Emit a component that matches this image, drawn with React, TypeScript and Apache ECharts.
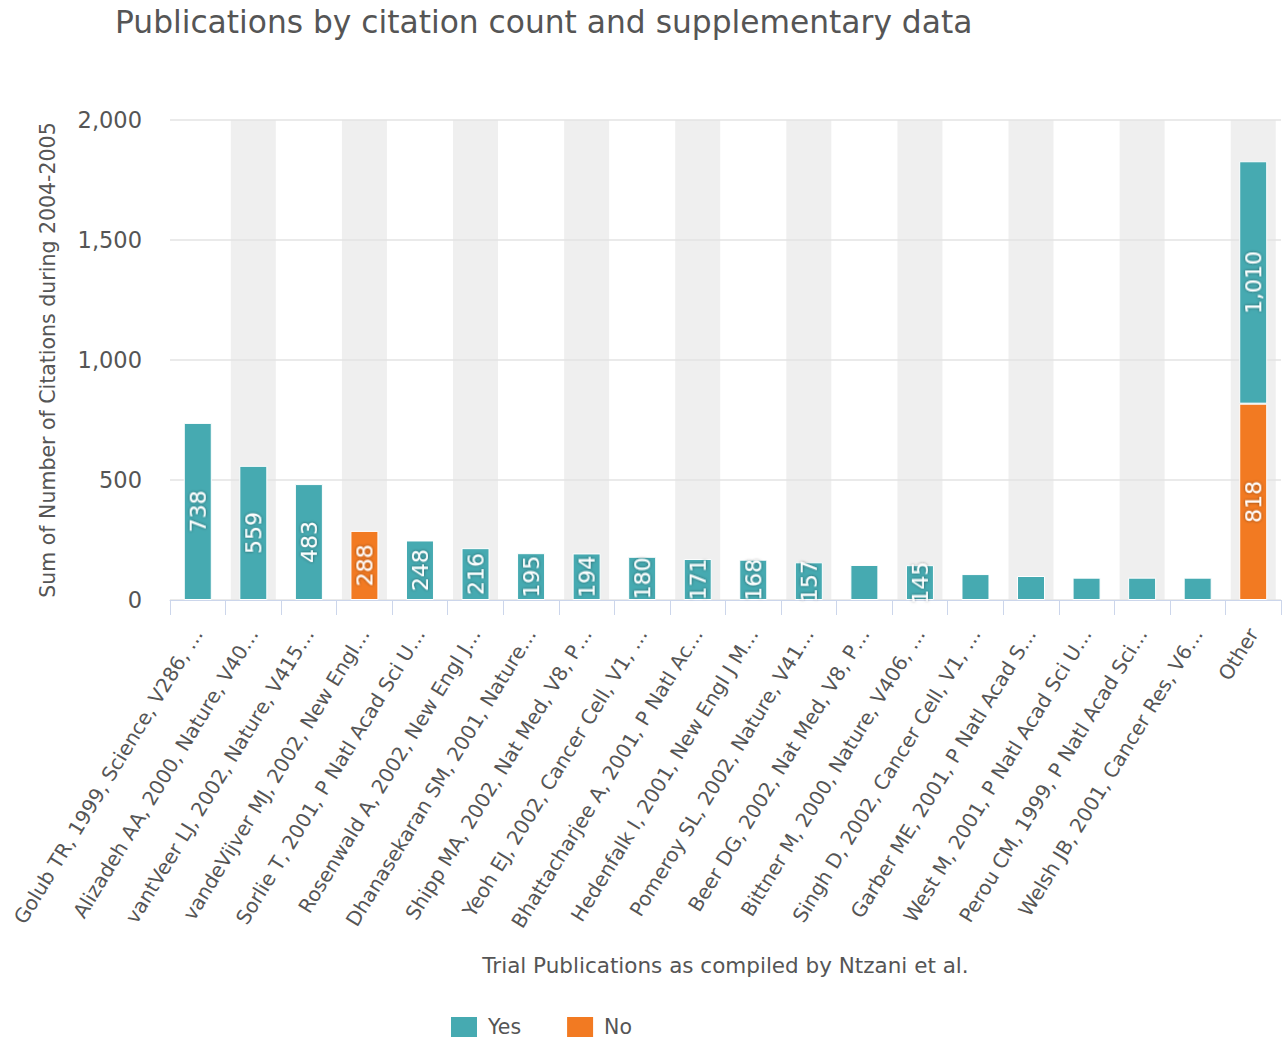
import React, { useEffect, useRef } from "react";
import * as echarts from "echarts";

const categories = [
  "Golub TR, 1999, Science, V286, …",
  "Alizadeh AA, 2000, Nature, V40…",
  "vantVeer LJ, 2002, Nature, V415…",
  "vandeVijver MJ, 2002, New Engl…",
  "Sorlie T, 2001, P Natl Acad Sci U…",
  "Rosenwald A, 2002, New Engl J…",
  "Dhanasekaran SM, 2001, Nature…",
  "Shipp MA, 2002, Nat Med, V8, P…",
  "Yeoh EJ, 2002, Cancer Cell, V1, …",
  "Bhattacharjee A, 2001, P Natl Ac…",
  "Hedenfalk I, 2001, New Engl J M…",
  "Pomeroy SL, 2002, Nature, V41…",
  "Beer DG, 2002, Nat Med, V8, P…",
  "Bittner M, 2000, Nature, V406, …",
  "Singh D, 2002, Cancer Cell, V1, …",
  "Garber ME, 2001, P Natl Acad S…",
  "West M, 2001, P Natl Acad Sci U…",
  "Perou CM, 1999, P Natl Acad Sci…",
  "Welsh JB, 2001, Cancer Res, V6…",
  "Other",
];

const yesValues: (number | null)[] = [
  738, 559, 483, null, 248, 216, 195, 194, 180, 171, 168, 157, 146, 145, 108, 100, 93, 93, 93, 1010,
];
const noValues: (number | null)[] = [
  null, null, null, 288, null, null, null, null, null, null, null, null, null, null, null, null, null, null, null, 818,
];
const yesLabelVisible = [
  true, true, true, true, true, true, true, true, true, true, true, true, false, true, false, false, false, false, false, true,
];

const yTicks = { min: 0, max: 2000, interval: 500 };

const TEAL = "#46aab1";
const ORANGE = "#f27a22";
const FONT = "'DejaVu Sans', sans-serif";

const fmt = (v: number) => v.toLocaleString("en-US");

export default function App() {
  const ref = useRef<HTMLDivElement>(null);
  useEffect(() => {
    if (!ref.current) return;
    const chart = echarts.init(ref.current, null, { renderer: "svg" });
    const labelStyle = {
      show: true,
      position: "inside",
      rotate: 90,
      color: "#ffffff",
      fontSize: 22,
      fontFamily: FONT,
      textShadowColor: "rgba(0,0,0,0.55)",
      textShadowBlur: 3,
      formatter: (p: any) => fmt(p.value),
    };
    chart.setOption({
      animation: false,
      textStyle: { fontFamily: FONT },
      title: {
        text: "Publications by citation count and supplementary data",
        left: 110,
        top: 1,
        textStyle: { fontSize: 31.3, fontWeight: "normal", color: "#555555", fontFamily: FONT },
      },
      legend: {
        data: ["Yes", "No"],
        left: 444,
        top: 1010,
        icon: "rect",
        itemWidth: 28,
        itemHeight: 22,
        itemGap: 44,
        textStyle: { fontSize: 20.5, color: "#555555", fontFamily: FONT, padding: [0, 0, 0, 5] },
      },
      grid: {
        left: 170,
        right: 7,
        top: 120,
        bottom: 442,
        containLabel: false,
        outerBoundsMode: "none",
      },
      xAxis: [
        {
          type: "category",
          data: categories,
          axisLine: { lineStyle: { color: "#ccd6eb", width: 1 } },
          axisTick: { show: true, length: 15, lineStyle: { color: "#ccd6eb" } },
          axisLabel: {
            rotate: 58.5,
            interval: 0,
            margin: 30,
            fontSize: 20,
            color: "#555555",
            fontFamily: FONT,
          },
          name: "Trial Publications as compiled by Ntzani et al.",
          nameLocation: "middle",
          nameGap: 354,
          nameTextStyle: { fontSize: 21.5, color: "#555555", fontFamily: FONT },
        },
        {
          type: "category",
          data: categories,
          show: false,
        },
      ],
      yAxis: {
        type: "value",
        min: yTicks.min,
        max: yTicks.max,
        interval: yTicks.interval,
        axisLine: { show: false },
        axisTick: { show: false },
        splitLine: { lineStyle: { color: "#e3e3e3", width: 1.5 } },
        axisLabel: {
          fontSize: 22.5,
          color: "#555555",
          margin: 28,
          fontFamily: FONT,
          formatter: (v: number) => fmt(v),
        },
        name: "Sum of Number of Citations during 2004-2005",
        nameLocation: "middle",
        nameGap: 112,
        nameTextStyle: { fontSize: 20.5, color: "#555555", fontFamily: FONT },
      },
      series: [
        {
          name: "band",
          type: "bar",
          xAxisIndex: 1,
          barWidth: "81%",
          silent: true,
          z: -1,
          itemStyle: { color: "#efefef" },
          data: categories.map((_, i) => (i % 2 === 1 ? yTicks.max : null)),
          legendHoverLink: false,
        },
        {
          name: "No",
          type: "bar",
          stack: "total",
          barWidth: 28,
          itemStyle: { color: ORANGE, borderColor: "#ffffff", borderWidth: 1 },
          label: labelStyle,
          data: noValues,
        },
        {
          name: "Yes",
          type: "bar",
          stack: "total",
          barWidth: 28,
          itemStyle: { color: TEAL, borderColor: "#ffffff", borderWidth: 1 },
          label: labelStyle,
          data: yesValues.map((v, i) => ({ value: v, label: { show: yesLabelVisible[i] } })),
        },
      ],
    });
    return () => chart.dispose();
  }, []);
  return (
    <div
      ref={ref}
      style={{ position: "absolute", left: 0, top: 0, width: 1288, height: 1042, background: "#ffffff" }}
    />
  );
}
